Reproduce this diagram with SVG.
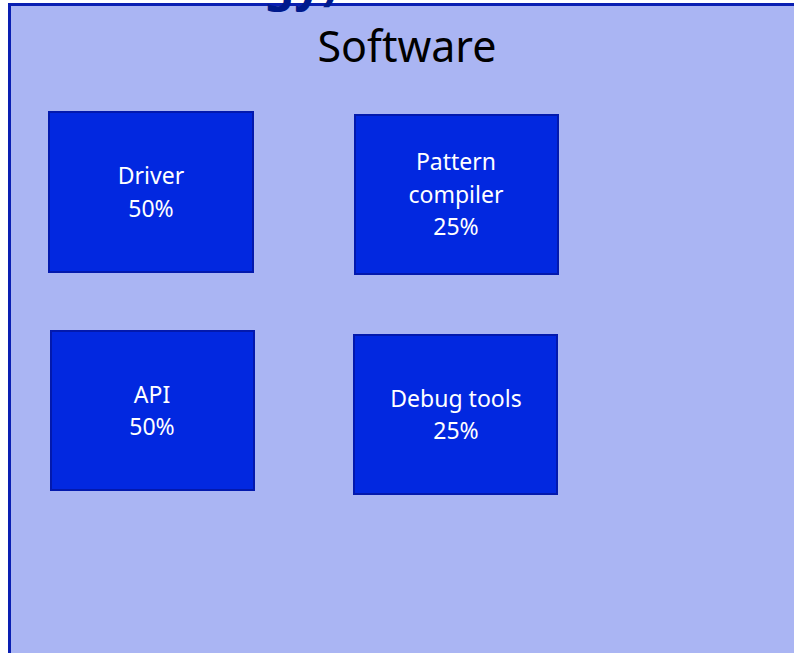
<svg xmlns="http://www.w3.org/2000/svg" width="794" height="653" viewBox="0 0 794 653">
  <style>
    .panel { fill: #aab5f3; stroke: #0a1fb2; stroke-width: 3; }
    .box { fill: #0228e0; stroke: #0319ad; stroke-width: 2; }
    .label { font-family: "Noto Sans", "Open Sans", sans-serif; font-size: 23px; fill: #ffffff; text-anchor: middle; }
    .title { font-family: "Noto Sans", "Open Sans", sans-serif; font-size: 43px; fill: #000000; text-anchor: middle; }
    .heading { font-family: "Noto Sans", "Open Sans", sans-serif; font-size: 48px; font-weight: bold; fill: #001a8c; }
  </style>
  <rect width="794" height="653" fill="#ffffff"/>

  <!-- container panel -->
  <g id="software">
    <rect class="panel" x="9.5" y="4.5" width="800" height="660"/>
    <text class="heading" x="264" y="0">gy)</text>
    <text class="title" x="407" y="62">Software</text>
  </g>

  <g id="driver">
    <rect class="box" x="49" y="112" width="204" height="160"/>
    <text class="label" x="151" y="184">Driver</text>
    <text class="label" x="151" y="217">50%</text>
  </g>

  <g id="pattern-compiler">
    <rect class="box" x="355" y="115" width="203" height="159"/>
    <text class="label" x="456" y="170">Pattern</text>
    <text class="label" x="456" y="203">compiler</text>
    <text class="label" x="456" y="235">25%</text>
  </g>

  <g id="api">
    <rect class="box" x="51" y="331" width="203" height="159"/>
    <text class="label" x="152" y="403">API</text>
    <text class="label" x="152" y="435">50%</text>
  </g>

  <g id="debug-tools">
    <rect class="box" x="354" y="335" width="203" height="159"/>
    <text class="label" x="456" y="407">Debug tools</text>
    <text class="label" x="456" y="439">25%</text>
  </g>

  <g id="connectors"></g>
</svg>
